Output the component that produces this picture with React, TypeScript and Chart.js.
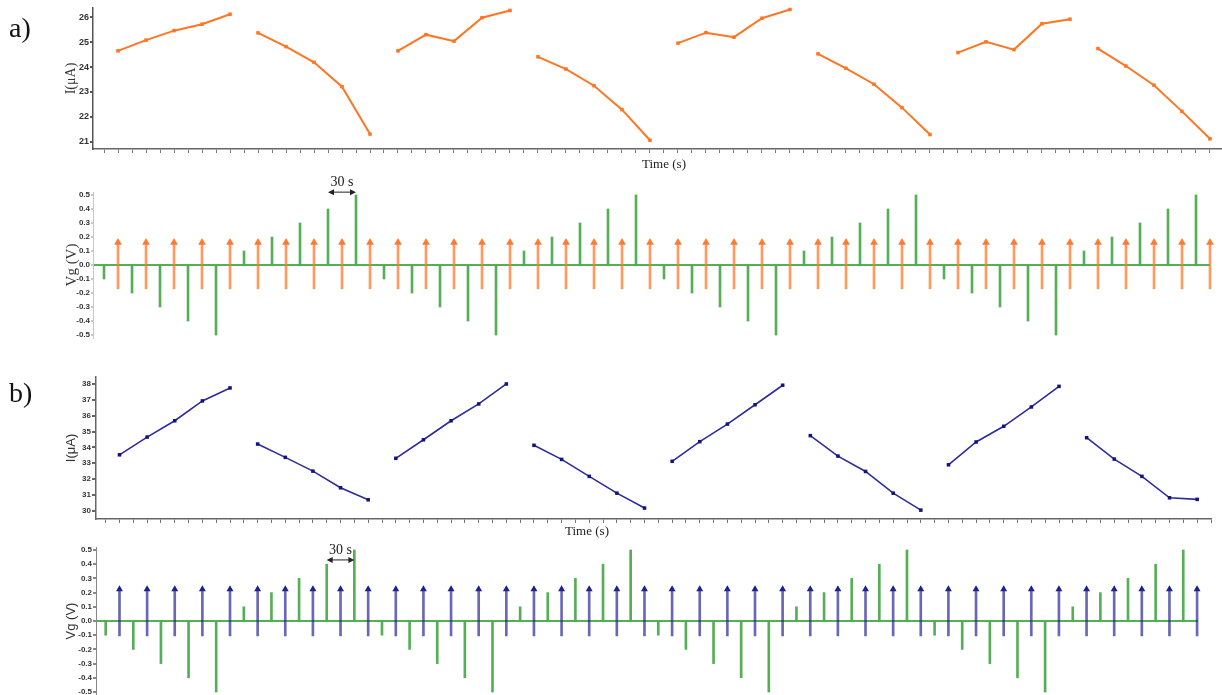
import React, { useEffect, useRef } from 'react';
import { Chart, registerables } from 'chart.js';

Chart.register(...registerables);
Chart.defaults.font.family = "'Liberation Sans', Arial, sans-serif";

// Gate-voltage pulse times (s) and read-out times (s)
const pulseTimes = [0, 30, 60, 90, 120, 150, 180, 210, 240, 270, 300, 330, 360, 390, 420, 450, 480, 510, 540, 570,
  600, 630, 660, 690, 720, 750, 780, 810, 840, 870, 900, 930, 960, 990, 1020, 1050, 1080, 1110, 1140, 1170];
const readTimes = [15, 45, 75, 105, 135, 165, 195, 225, 255, 285, 315, 345, 375, 405, 435, 465, 495, 525, 555, 585,
  615, 645, 675, 705, 735, 765, 795, 825, 855, 885, 915, 945, 975, 1005, 1035, 1065, 1095, 1125, 1155, 1185];

const vgA = [-0.1, -0.2, -0.3, -0.4, -0.5, 0.1, 0.2, 0.3, 0.4, 0.5, -0.1, -0.2, -0.3, -0.4, -0.5, 0.1, 0.2, 0.3, 0.4, 0.5,
  -0.1, -0.2, -0.3, -0.4, -0.5, 0.1, 0.2, 0.3, 0.4, 0.5, -0.1, -0.2, -0.3, -0.4, -0.5, 0.1, 0.2, 0.3, 0.4, 0.5];
const vgB = [-0.1, -0.2, -0.3, -0.4, -0.5, 0.1, 0.2, 0.3, 0.4, 0.5, -0.1, -0.2, -0.3, -0.4, -0.5, 0.1, 0.2, 0.3, 0.4, 0.5,
  -0.1, -0.2, -0.3, -0.4, -0.5, 0.1, 0.2, 0.3, 0.4, 0.5, -0.1, -0.2, -0.3, -0.4, -0.5, 0.1, 0.2, 0.3, 0.4, 0.5];

const currentA = [24.65, 25.08, 25.46, 25.72, 26.12, 25.37, 24.82, 24.19, 23.21, 21.31,
  24.65, 25.30, 25.04, 25.98, 26.27, 24.41, 23.92, 23.25, 22.29, 21.06,
  24.96, 25.38, 25.20, 25.96, 26.31, 24.53, 23.95, 23.31, 22.37, 21.29,
  24.58, 25.01, 24.70, 25.74, 25.92, 24.74, 24.04, 23.27, 22.22, 21.12];
const currentB = [33.53, 34.65, 35.68, 36.93, 37.75, 34.21, 33.37, 32.50, 31.45, 30.69,
  33.31, 34.48, 35.68, 36.74, 38.00, 34.13, 33.24, 32.17, 31.11, 30.17,
  33.12, 34.36, 35.47, 36.69, 37.92, 34.74, 33.45, 32.48, 31.11, 30.04,
  32.90, 34.34, 35.33, 36.55, 37.85, 34.61, 33.26, 32.17, 30.82, 30.72];

const currentTicksA = [21, 22, 23, 24, 25, 26];
const currentTicksB = [30, 31, 32, 33, 34, 35, 36, 37, 38];
const vgTicks = [-0.5, -0.4, -0.3, -0.2, -0.1, 0.0, 0.1, 0.2, 0.3, 0.4, 0.5];

// read-out arrows (bottom value, arrow-head value)
const arrowA = { low: -0.17, head: 0.161 };
const arrowB = { low: -0.105, head: 0.224 };
const intervalMark = { label: '30 s', from: 240, to: 270 };
const segmentLength = 5;

const ORANGE = '#ff7622';
const NAVY = '#2c2c9c';
const GREEN = 'rgba(56,160,56,0.85)';

const W = 1222;
const H = 695;

function yAxis(o: any) {
  return {
    type: 'linear',
    position: 'left',
    min: o.min,
    max: o.max,
    afterFit: (s: any) => { s.width = o.width; s.paddingTop = 0; s.paddingBottom = 0; },
    afterBuildTicks: (s: any) => { s.ticks = o.ticks.map((v: number) => ({ value: v })); },
    ticks: {
      font: { size: o.tickSize, weight: 'bold' },
      color: '#333',
      padding: o.tickPad,
      callback: o.fmt,
    },
    grid: {
      drawOnChartArea: !!o.zeroLine,
      drawTicks: true,
      tickLength: o.tickLength,
      tickColor: o.axisColor,
      color: (c: any) => (o.zeroLine && c.tick && Math.abs(c.tick.value) < 1e-9 ? GREEN : 'rgba(0,0,0,0)'),
      lineWidth: 2,
    },
    border: { display: true, color: o.axisColor, width: o.axisWidth },
    title: {
      display: true,
      text: o.title,
      font: { family: o.titleFamily, size: o.titleSize },
      color: '#333',
      padding: { top: o.titlePad, bottom: 0 },
    },
  };
}

function xAxis(o: any) {
  return {
    type: 'linear',
    min: o.min,
    max: o.max,
    display: o.display,
    offset: false,
    afterFit: (s: any) => { s.height = o.height || 0; s.paddingLeft = 0; s.paddingRight = 0; },
    ticks: { display: false, stepSize: 15, includeBounds: false, autoSkip: false },
    grid: { drawOnChartArea: false, drawTicks: true, tickLength: 4, color: '#777', offset: false },
    border: { display: true, color: '#666', width: 1.5 },
  };
}

function intervalPlugin(yVal: number) {
  return {
    id: 'interval',
    afterDatasetsDraw(chart: any) {
      const { ctx } = chart;
      const xs = chart.scales.x;
      const ys = chart.scales.y;
      const x1 = xs.getPixelForValue(intervalMark.from);
      const x2 = xs.getPixelForValue(intervalMark.to);
      const y = ys.getPixelForValue(yVal);
      ctx.save();
      ctx.strokeStyle = '#222';
      ctx.fillStyle = '#222';
      ctx.lineWidth = 1;
      ctx.beginPath();
      ctx.moveTo(x1 + 3, y);
      ctx.lineTo(x2 - 3, y);
      ctx.stroke();
      ctx.beginPath();
      ctx.moveTo(x1, y); ctx.lineTo(x1 + 6, y - 3); ctx.lineTo(x1 + 6, y + 3); ctx.closePath();
      ctx.fill();
      ctx.beginPath();
      ctx.moveTo(x2, y); ctx.lineTo(x2 - 6, y - 3); ctx.lineTo(x2 - 6, y + 3); ctx.closePath();
      ctx.fill();
      ctx.font = "14px 'Liberation Serif', 'Times New Roman', serif";
      ctx.textAlign = 'center';
      ctx.textBaseline = 'bottom';
      ctx.fillText(intervalMark.label, (x1 + x2) / 2, y - 3);
      ctx.restore();
    },
  };
}

function currentConfig(o: any) {
  return {
    type: 'line',
    data: {
      datasets: [{
        data: readTimes.map((t, i) => ({ x: t, y: o.values[i] })),
        borderColor: o.color,
        backgroundColor: o.color,
        borderWidth: o.lineWidth,
        pointStyle: 'rect',
        pointRadius: 2.5,
        pointBackgroundColor: o.pointColor,
        pointBorderWidth: 0,
        clip: false,
        segment: {
          borderColor: (c: any) => ((c.p0DataIndex % segmentLength) === segmentLength - 1 ? 'rgba(0,0,0,0)' : o.color),
        },
      }],
    },
    options: {
      responsive: false,
      animation: false,
      layout: { padding: o.padding, autoPadding: false },
      plugins: { legend: { display: false }, tooltip: { enabled: false } },
      scales: {
        x: xAxis({ min: o.xmin, max: o.xmax, display: true, height: 10 }),
        y: yAxis(o.y),
      },
    },
  };
}

function vgConfig(o: any) {
  return {
    type: 'line',
    data: {
      datasets: [
        {
          type: 'bar',
          data: pulseTimes.map((t, i) => ({ x: t, y: o.values[i] })),
          backgroundColor: GREEN,
          borderWidth: 0,
          barThickness: 2,
          grouped: false,
          clip: false,
        },
        {
          type: 'bar',
          data: readTimes.map((t) => ({ x: t, y: [o.arrow.low, o.arrow.head] })),
          backgroundColor: o.arrowColor,
          borderWidth: 0,
          barThickness: 2,
          grouped: false,
          clip: false,
        },
        {
          type: 'line',
          showLine: false,
          data: readTimes.map((t) => ({ x: t, y: o.arrow.head })),
          pointStyle: 'triangle',
          pointRadius: o.headRadius,
          pointBackgroundColor: o.headColor,
          pointBorderWidth: 0,
          clip: false,
        },
      ],
    },
    options: {
      responsive: false,
      animation: false,
      layout: { padding: o.padding, autoPadding: false },
      plugins: { legend: { display: false }, tooltip: { enabled: false } },
      scales: {
        x: xAxis({ min: o.xmin, max: o.xmax, display: false }),
        y: yAxis(o.y),
      },
    },
    plugins: [intervalPlugin(o.markY)],
  };
}

const fmtInt = (v: any) => String(v);
const fmtVg = (v: any) => Number(v).toFixed(1);

const configs: any[] = [
  currentConfig({
    values: currentA, color: ORANGE, pointColor: ORANGE, lineWidth: 2,
    xmin: -11.8, xmax: 1197.9,
    padding: { left: 0, top: 8, right: 0, bottom: H - 149 - 10 },
    y: {
      min: 20.71, max: 26.37, ticks: currentTicksA, fmt: fmtInt, width: 93, tickSize: 9, tickPad: 1,
      tickLength: 3, axisColor: '#555', axisWidth: 1.5, title: 'I(μA)',
      titleFamily: "'Liberation Serif', 'Times New Roman', serif", titleSize: 14, titlePad: 63,
    },
  }),
  vgConfig({
    values: vgA, arrow: arrowA, arrowColor: 'rgba(255,120,40,0.75)', headColor: 'rgba(255,110,30,0.9)', headRadius: 4.5,
    xmin: -11.8, xmax: 1185, markY: 0.52,
    padding: { left: 0, top: 192, right: W - 1210, bottom: H - 338 },
    y: {
      min: -0.521, max: 0.521, ticks: vgTicks, fmt: fmtVg, width: 93, tickSize: 8, tickPad: 1,
      tickLength: 2, axisColor: '#c8c8c8', axisWidth: 1, title: 'Vg (V)', zeroLine: true,
      titleFamily: "'Liberation Serif', 'Times New Roman', serif", titleSize: 15, titlePad: 63,
    },
  }),
  currentConfig({
    values: currentB, color: NAVY, pointColor: '#14147a', lineWidth: 1.6,
    xmin: -10.5, xmax: 1200,
    padding: { left: 0, top: 377, right: W - 1211, bottom: H - 519 - 10 },
    y: {
      min: 29.48, max: 38.44, ticks: currentTicksB, fmt: fmtInt, width: 96, tickSize: 8, tickPad: 1,
      tickLength: 4, axisColor: '#666', axisWidth: 1.5, title: 'I(μA)',
      titleFamily: "'Liberation Sans', Arial, sans-serif", titleSize: 13, titlePad: 64,
    },
  }),
  vgConfig({
    values: vgB, arrow: arrowB, arrowColor: 'rgba(40,40,150,0.7)', headColor: '#1c1c8a', headRadius: 4,
    xmin: -10.5, xmax: 1186, markY: 0.43,
    padding: { left: 0, top: 547, right: W - 1198, bottom: 0 },
    y: {
      min: -0.521, max: 0.521, ticks: vgTicks, fmt: fmtVg, width: 96, tickSize: 8, tickPad: 1,
      tickLength: 3, axisColor: '#888', axisWidth: 1, title: 'Vg (V)', zeroLine: true,
      titleFamily: "'Liberation Sans', Arial, sans-serif", titleSize: 13, titlePad: 64,
    },
  }),
];

function ChartCanvas({ config }: { config: any }) {
  const ref = useRef<HTMLCanvasElement | null>(null);
  useEffect(() => {
    if (!ref.current) return;
    const chart = new Chart(ref.current, config);
    return () => chart.destroy();
  }, [config]);
  return (
    <canvas
      ref={ref}
      width={W}
      height={H}
      style={{ position: 'absolute', left: 0, top: 0, width: W, height: H }}
    />
  );
}

const serif = "'Liberation Serif', 'Times New Roman', serif";

export default function App() {
  return (
    <div style={{ position: 'fixed', left: 0, top: 0, width: W, height: H, background: '#fff', overflow: 'hidden' }}>
      {configs.map((c, i) => <ChartCanvas key={i} config={c} />)}
      <div style={{ position: 'absolute', left: 9, top: 13, fontFamily: serif, fontSize: 28, lineHeight: '30px', color: '#111' }}>a)</div>
      <div style={{ position: 'absolute', left: 9, top: 378, fontFamily: serif, fontSize: 28, lineHeight: '30px', color: '#111' }}>b)</div>
      <div style={{ position: 'absolute', left: 664, top: 156, transform: 'translateX(-50%)', fontFamily: serif, fontSize: 13, lineHeight: '16px', color: '#222', whiteSpace: 'nowrap' }}>Time (s)</div>
      <div style={{ position: 'absolute', left: 587, top: 523, transform: 'translateX(-50%)', fontFamily: serif, fontSize: 13, lineHeight: '16px', color: '#222', whiteSpace: 'nowrap' }}>Time (s)</div>
    </div>
  );
}
